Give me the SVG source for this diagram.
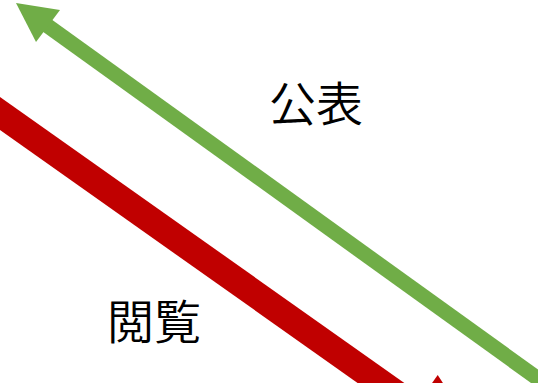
<svg xmlns="http://www.w3.org/2000/svg" width="538" height="383" viewBox="0 0 538 383">
<style>
.lbl{font-family:"Noto Sans CJK JP","Noto Sans CJK SC",sans-serif;font-size:47px;font-weight:350;fill:#000;text-anchor:middle}
</style>
<rect width="538" height="383" fill="#fff"/>
<g id="connectors">
<g id="publish-arrow">
<line x1="560" y1="394.6" x2="40" y2="20.3" stroke="#70AD47" stroke-width="15"/>
<polygon points="16,3 60,10 36,42" fill="#70AD47"/>
</g>
<g id="browse-arrow">
<line x1="-20" y1="99.3" x2="417" y2="408.5" stroke="#C00000" stroke-width="27"/>
<polygon points="437.7,375 392.3,439.4 496.6,465" fill="#C00000"/>
</g>
</g>
<g id="label-publish"><text class="lbl" x="316" y="121">公表</text></g>
<g id="label-browse"><text class="lbl" x="154" y="339">閲覧</text></g>
</svg>
